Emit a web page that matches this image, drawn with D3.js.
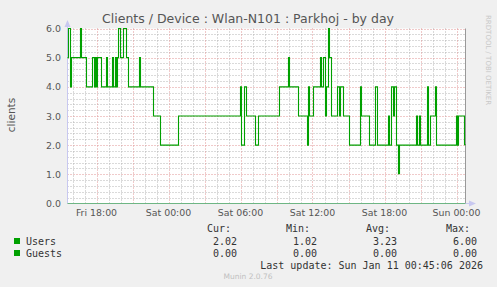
<!DOCTYPE html>
<html>
<head>
<meta charset="utf-8">
<script src="https://cdn.jsdelivr.net/npm/d3@7"></script>
<style>
  body { margin: 0; background: #f0f0f0; }
  svg { display: block; }
  text { font-family: "DejaVu Sans", sans-serif; }
  .mono { font-family: "DejaVu Sans Mono", monospace; }
</style>
</head>
<body>
<svg id="chart"></svg>
<script>
const width = 497;
const height = 287;

// DATA (step changes of the Users series)
const userTimes = [
  '2026-01-09 15:35', '2026-01-09 15:40', '2026-01-09 15:50', '2026-01-09 15:55',
  '2026-01-09 16:40', '2026-01-09 16:45', '2026-01-09 17:10', '2026-01-09 17:40',
  '2026-01-09 17:50', '2026-01-09 17:55', '2026-01-09 18:00', '2026-01-09 18:05',
  '2026-01-09 18:25', '2026-01-09 18:50', '2026-01-09 18:55', '2026-01-09 19:20',
  '2026-01-09 19:25', '2026-01-09 19:35', '2026-01-09 19:40', '2026-01-09 19:45',
  '2026-01-09 19:50', '2026-01-09 20:00', '2026-01-09 20:15', '2026-01-09 20:30',
  '2026-01-09 20:40', '2026-01-09 21:35', '2026-01-09 21:40', '2026-01-09 22:45',
  '2026-01-09 23:20', '2026-01-10 00:50', '2026-01-10 06:00', '2026-01-10 06:05',
  '2026-01-10 06:20', '2026-01-10 06:30', '2026-01-10 07:15', '2026-01-10 07:30',
  '2026-01-10 09:15', '2026-01-10 10:00', '2026-01-10 10:05', '2026-01-10 10:50',
  '2026-01-10 11:35', '2026-01-10 11:40', '2026-01-10 11:45', '2026-01-10 12:05',
  '2026-01-10 12:40', '2026-01-10 12:45', '2026-01-10 12:55', '2026-01-10 13:05',
  '2026-01-10 13:10', '2026-01-10 13:20', '2026-01-10 13:25', '2026-01-10 13:35',
  '2026-01-10 14:05', '2026-01-10 14:15', '2026-01-10 14:20', '2026-01-10 14:35',
  '2026-01-10 15:05', '2026-01-10 16:00', '2026-01-10 16:05', '2026-01-10 16:45',
  '2026-01-10 17:15', '2026-01-10 17:25', '2026-01-10 18:20', '2026-01-10 18:25',
  '2026-01-10 18:35', '2026-01-10 18:45', '2026-01-10 18:50', '2026-01-10 19:00',
  '2026-01-10 19:10', '2026-01-10 19:15', '2026-01-10 20:40', '2026-01-10 20:45',
  '2026-01-10 20:55', '2026-01-10 21:00', '2026-01-10 21:35', '2026-01-10 21:40',
  '2026-01-10 21:50', '2026-01-10 22:15', '2026-01-10 22:20', '2026-01-11 00:00',
  '2026-01-11 00:05', '2026-01-11 00:10', '2026-01-11 00:40', '2026-01-11 00:45'
];
const userValues = [
  5, 6, 4, 5,
  6, 5, 4, 5,
  4, 5, 4, 5,
  4, 5, 4, 5,
  4, 5, 4, 5,
  6, 5, 6, 5,
  4, 5, 4, 3,
  2, 3, 4, 2,
  4, 3, 2, 3,
  4, 5, 4, 3,
  2, 4, 3, 4,
  5, 4, 5, 3,
  4, 6, 5, 3,
  4, 3, 4, 3,
  2, 4, 3, 2,
  4, 2, 3, 2,
  4, 3, 4, 2,
  1.02, 2, 3, 2,
  3, 2, 4, 2,
  3, 4, 2, 3,
  2, 3, 2.02, 2.02
];
const guestTimes = ['2026-01-09 15:35', '2026-01-11 00:45'];
const guestValues = [0, 0];

const timeDomain = ['2026-01-09 15:35', '2026-01-11 00:45'];
const yTicks = [0, 1, 2, 3, 4, 5, 6];

const seriesNames = ['Users', 'Guests'];
const statHeaders = ['Cur:', 'Min:', 'Avg:', 'Max:'];
const userStats = ['2.02', '1.02', '3.23', '6.00'];
const guestStats = ['0.00', '0.00', '0.00', '0.00'];

const titleText = 'Clients / Device : Wlan-N101 : Parkhoj - by day';
const lastUpdate = 'Last update: Sun Jan 11 00:45:06 2026';

// colors
const green = '#00a000';
const majorGrid = '#e09494';
const minorGrid = '#b4b4b4';
const axisColor = '#c8c8f0';
const textColor = '#555';

const parse = d3.utcParse('%Y-%m-%d %H:%M');

const svg = d3.select('#chart').attr('width', width).attr('height', height);

const x = d3.scaleUtc().domain(timeDomain.map(parse)).range([67.5, 465.5]);
const y = d3.scaleLinear().domain([0, 6]).range([203.5, 28.5]);

// plot background
svg.append('rect')
  .attr('x', x.range()[0]).attr('y', y(6))
  .attr('width', x.range()[1] - x.range()[0]).attr('height', y(0) - y(6))
  .attr('fill', '#fff');

// minor grid
const grid = svg.append('g').attr('stroke-width', 1).attr('stroke-dasharray', '1,2');
grid.selectAll('.hmin')
  .data(d3.range(0, 6.01, 0.2).filter(v => Math.abs(v - Math.round(v)) > 0.01))
  .enter().append('line')
  .attr('x1', x.range()[0]).attr('x2', x.range()[1])
  .attr('y1', d => Math.round(y(d)) + 0.5).attr('y2', d => Math.round(y(d)) + 0.5)
  .attr('stroke', minorGrid);
grid.selectAll('.vmin')
  .data(x.ticks(d3.utcHour.every(1)).filter(d => d.getUTCHours() % 3 !== 0))
  .enter().append('line')
  .attr('x1', d => Math.round(x(d)) + 0.5).attr('x2', d => Math.round(x(d)) + 0.5)
  .attr('y1', y(0)).attr('y2', y(6))
  .attr('stroke', minorGrid);

// major grid
grid.selectAll('.hmaj')
  .data(yTicks.filter(v => v > 0))
  .enter().append('line')
  .attr('x1', x.range()[0]).attr('x2', x.range()[1])
  .attr('y1', d => Math.round(y(d)) + 0.5).attr('y2', d => Math.round(y(d)) + 0.5)
  .attr('stroke', majorGrid);
grid.selectAll('.vmaj')
  .data(x.ticks(d3.utcHour.every(3)))
  .enter().append('line')
  .attr('x1', d => Math.round(x(d)) + 0.5).attr('x2', d => Math.round(x(d)) + 0.5)
  .attr('y1', y(0)).attr('y2', y(6))
  .attr('stroke', majorGrid);

// right border
svg.append('line')
  .attr('x1', x.range()[1]).attr('x2', x.range()[1])
  .attr('y1', y(0)).attr('y2', y(6))
  .attr('stroke', '#999');

// axes lines with arrows
svg.append('line')
  .attr('x1', x.range()[0]).attr('x2', x.range()[0])
  .attr('y1', y(0)).attr('y2', 24)
  .attr('stroke', axisColor);
svg.append('path')
  .attr('d', `M${x.range()[0] - 3},27 L${x.range()[0]},20 L${x.range()[0] + 3},27 Z`)
  .attr('fill', axisColor);
svg.append('line')
  .attr('x1', x.range()[0]).attr('x2', 471)
  .attr('y1', y(0)).attr('y2', y(0))
  .attr('stroke', axisColor);
svg.append('path')
  .attr('d', `M469,${y(0) - 3} L476,${y(0)} L469,${y(0) + 3} Z`)
  .attr('fill', axisColor);

// y tick labels
svg.selectAll('.ylab')
  .data(yTicks)
  .enter().append('text')
  .attr('x', 61).attr('y', d => y(d) + 3.5)
  .attr('text-anchor', 'end')
  .attr('font-size', '9.4px')
  .attr('fill', textColor)
  .text(d => d.toFixed(1));

// x tick labels
const fmt = d3.utcFormat('%a %H:%M');
svg.selectAll('.xlab')
  .data(x.ticks(d3.utcHour.every(6)))
  .enter().append('text')
  .attr('x', d => x(d)).attr('y', 216)
  .attr('text-anchor', 'middle')
  .attr('font-size', '9.4px')
  .attr('fill', textColor)
  .text(fmt);

// series lines
const line = d3.line()
  .x(d => x(d.t))
  .y(d => y(d.v))
  .curve(d3.curveStepAfter);

const guests = guestTimes.map((t, i) => ({ t: parse(t), v: guestValues[i] }));
const users = userTimes.map((t, i) => ({ t: parse(t), v: userValues[i] }));

svg.append('path')
  .datum(guests)
  .attr('d', line)
  .attr('fill', 'none')
  .attr('stroke', green)
  .attr('stroke-opacity', 0.45)
  .attr('stroke-width', 1);

svg.append('path')
  .datum(users)
  .attr('d', line)
  .attr('fill', 'none')
  .attr('stroke', green)
  .attr('stroke-width', 1.1);

// title
svg.append('text')
  .attr('x', 248).attr('y', 23)
  .attr('text-anchor', 'middle')
  .attr('font-size', '12.5px')
  .attr('fill', textColor)
  .text(titleText);

// vertical label
svg.append('text')
  .attr('transform', 'translate(15, 115) rotate(-90)')
  .attr('text-anchor', 'middle')
  .attr('font-size', '10.5px')
  .attr('fill', textColor)
  .text('clients');

// rrdtool credit
svg.append('text')
  .attr('transform', 'translate(486, 15) rotate(90)')
  .attr('font-size', '7px')
  .attr('fill', '#c8c8c8')
  .text('RRDTOOL / TOBI OETIKER');

// legend
const colRight = [231, 310, 390, 470];
const valRight = [237, 317, 397, 477];
svg.selectAll('.hdr')
  .data(statHeaders)
  .enter().append('text')
  .classed('mono', true)
  .attr('x', (d, i) => colRight[i]).attr('y', 232)
  .attr('text-anchor', 'end')
  .attr('font-size', '10px')
  .attr('fill', '#333')
  .text(d => d);

[userStats, guestStats].forEach((stats, r) => {
  const rowY = 245 + r * 12;
  svg.append('rect')
    .attr('x', 14).attr('y', rowY - 7)
    .attr('width', 6).attr('height', 6)
    .attr('fill', green);
  svg.append('text')
    .classed('mono', true)
    .attr('x', 26).attr('y', rowY)
    .attr('font-size', '10px')
    .attr('fill', '#333')
    .text(seriesNames[r]);
  svg.selectAll(`.stat${r}`)
    .data(stats)
    .enter().append('text')
    .classed('mono', true)
    .attr('x', (d, i) => valRight[i]).attr('y', rowY)
    .attr('text-anchor', 'end')
    .attr('font-size', '10px')
    .attr('fill', '#333')
    .text(d => d);
});

svg.append('text')
  .classed('mono', true)
  .attr('x', 483).attr('y', 269)
  .attr('text-anchor', 'end')
  .attr('font-size', '10px')
  .attr('fill', '#333')
  .text(lastUpdate);

svg.append('text')
  .attr('x', 248).attr('y', 279)
  .attr('text-anchor', 'middle')
  .attr('font-size', '7.5px')
  .attr('fill', '#c0c0c0')
  .text('Munin 2.0.76');
</script>
</body>
</html>
